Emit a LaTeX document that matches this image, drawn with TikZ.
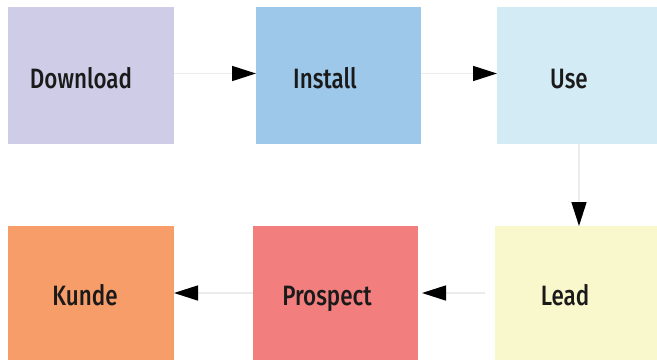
\documentclass[tikz,border=0pt]{standalone}
\usepackage{fontspec}
\newfontfamily\labfont[FakeStretch=0.8]{Fira Sans Medium}
\usetikzlibrary{arrows.meta}
\definecolor{cDownload}{HTML}{CFCCE7}
\definecolor{cInstall}{HTML}{9DC8EA}
\definecolor{cUse}{HTML}{D3EBF5}
\definecolor{cKunde}{HTML}{F79D69}
\definecolor{cProspect}{HTML}{F27E7E}
\definecolor{cLead}{HTML}{F9F8CC}
\definecolor{cLine}{HTML}{EBEBEB}
\definecolor{cText}{HTML}{1A1A1A}
\tikzset{
  box/.style={draw=none, inner sep=0pt, outer sep=0pt, minimum height=#1},
  box/.default=137pt,
  lab/.style={anchor=base, inner sep=0pt, text=cText, font=\labfont\fontsize{28}{30}\selectfont},
  flow/.style={draw=cLine, line width=1.5pt, -{Triangle[length=24pt,width=15pt,color=black]}}
}
\begin{document}
\begin{tikzpicture}[x=1pt,y=1pt]
\useasboundingbox (0,0) rectangle (657,-362);
\node[box, fill=cDownload, minimum width=166pt] (b1) at (91,-75.5) {};
\node[box, fill=cInstall, minimum width=165pt] (b2) at (338.5,-75.5) {};
\node[box, fill=cUse, minimum width=160pt] (b3) at (577,-75.5) {};
\node[box=134pt, fill=cKunde, minimum width=166pt] (b4) at (91,-293) {};
\node[box=134pt, fill=cProspect, minimum width=165pt] (b5) at (335.5,-293) {};
\node[box=134pt, fill=cLead, minimum width=162pt] (b6) at (576,-293) {};
\node[lab] (t1) at ([shift={(-10pt,-12.5pt)}]b1.center) {Download};
\node[lab] (t2) at ([shift={(-13.5pt,-12.5pt)}]b2.center) {Install};
\node[lab] (t3) at ([shift={(-8pt,-12.5pt)}]b3.center) {Use};
\node[lab] (t4) at ([shift={(-6pt,-12pt)}]b4.center) {Kunde};
\node[lab] (t5) at ([shift={(-8.5pt,-12pt)}]b5.center) {Prospect};
\node[lab] (t6) at ([shift={(-11pt,-12pt)}]b6.center) {Lead};
\draw[flow] ([yshift=2pt]b1.east) -- ([yshift=2pt]b2.west);
\draw[flow] ([yshift=2pt]b2.east) -- ([yshift=2pt]b3.west);
\draw[flow] ([xshift=2pt]b3.south) -- ([xshift=2pt]b3.south |- b6.north);
\draw[flow, shorten <=10pt, shorten >=4pt] (b6.west) -- (b5.east);
\draw[flow] (b5.west) -- (b4.east);
\end{tikzpicture}
\end{document}
